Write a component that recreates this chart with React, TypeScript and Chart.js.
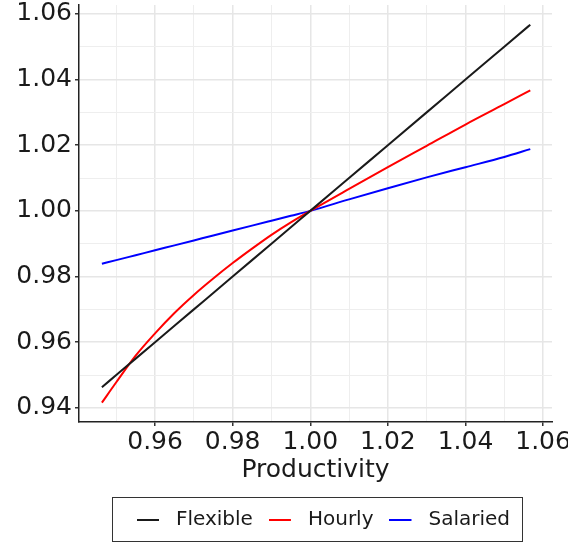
import React, { useEffect, useRef } from 'react';
import { Chart, registerables } from 'chart.js';

Chart.register(...registerables);

// ---- data ----
const productivity = [0.9463, 0.95, 0.955, 0.96, 0.965, 0.97, 0.975, 0.98, 0.985, 0.99, 0.995, 1.0, 1.01, 1.02, 1.03, 1.04, 1.05, 1.0567];
const flexible = [0.9463, 0.95, 0.955, 0.96, 0.965, 0.97, 0.975, 0.98, 0.985, 0.99, 0.995, 1.0, 1.01, 1.02, 1.03, 1.04, 1.05, 1.0567];
const hourly = [0.9416, 0.9478, 0.9559, 0.9627, 0.9689, 0.9744, 0.9794, 0.9841, 0.9885, 0.9927, 0.9965, 1.0, 1.0067, 1.0133, 1.0198, 1.0263, 1.0325, 1.0367];
const salaried = [0.9839, 0.985, 0.9865, 0.988, 0.9895, 0.991, 0.9925, 0.994, 0.9955, 0.997, 0.9985, 1.0, 1.0035, 1.0069, 1.0102, 1.0133, 1.0164, 1.0188];

const seriesNames = ['Flexible', 'Hourly', 'Salaried'];
const seriesColors = ['#1a1a1a', '#ff0000', '#0000ff'];

const xMajorTicks = [0.96, 0.98, 1.0, 1.02, 1.04, 1.06];
const xMinorTicks = [0.95, 0.97, 0.99, 1.01, 1.03, 1.05];
const yMajorTicks = [0.94, 0.96, 0.98, 1.0, 1.02, 1.04, 1.06];
const yMinorTicks = [0.95, 0.97, 0.99, 1.01, 1.03, 1.05];
const xRange = [0.9404, 1.0623];
const yRange = [0.9357, 1.0627];
const xTitle = 'Productivity';

const isIn = (arr: number[], v: number) => arr.some((m) => Math.abs(m - v) < 1e-6);

// legend key: a 22px line followed by a small transparent gap
function makeKey(color: string): HTMLCanvasElement {
  const c = document.createElement('canvas');
  c.width = 29;
  c.height = 4;
  const g = c.getContext('2d');
  if (g) {
    g.fillStyle = color;
    g.fillRect(0, 1, 22, 2);
  }
  return c;
}

export default function App() {
  const ref = useRef<HTMLCanvasElement>(null);

  useEffect(() => {
    const canvas = ref.current;
    if (!canvas) return;

    const tickFont = { family: 'DejaVu Sans', size: 25 };
    const textColor = '#1a1a1a';
    const gridColor = (majors: number[]) => (ctx: any) =>
      ctx.tick && isIn(majors, ctx.tick.value) ? '#e6e6e6' : '#eeeeee';
    const gridWidth = (majors: number[]) => (ctx: any) =>
      ctx.tick && isIn(majors, ctx.tick.value) ? 1.5 : 1;
    const tickColor = (majors: number[]) => (ctx: any) =>
      ctx.tick && isIn(majors, ctx.tick.value) ? '#333333' : 'rgba(0,0,0,0)';

    const legendBox = {
      id: 'legendBox',
      afterLayout(chart: any) {
        const lg = chart.legend;
        if (!lg) return;
        lg.left += 8;
        lg.right += 8;
      },
      afterDraw(chart: any) {
        const lg = chart.legend;
        if (!lg || !lg.legendHitBoxes || !lg.legendHitBoxes.length) return;
        const hb = lg.legendHitBoxes;
        const first = hb[0];
        const last = hb[hb.length - 1];
        const cy = first.top + first.height / 2;
        const left = Math.round(first.left - 25) + 0.5;
        const right = Math.round(last.left + last.width + 12) + 0.5;
        const top = Math.round(cy - 23) + 0.5;
        const bottom = Math.round(cy + 21) + 0.5;
        const ctx = chart.ctx;
        ctx.save();
        ctx.strokeStyle = '#333333';
        ctx.lineWidth = 1;
        ctx.strokeRect(left, top, right - left, bottom - top);
        ctx.restore();
      },
    };

    const series = [flexible, hourly, salaried];
    const chart = new Chart(canvas, {
      type: 'line',
      data: {
        datasets: series.map((ys, i) => ({
          label: seriesNames[i],
          data: productivity.map((x, j) => ({ x, y: ys[j] })),
          borderColor: seriesColors[i],
          backgroundColor: seriesColors[i],
          borderWidth: 2,
          pointRadius: 0,
          pointStyle: makeKey(seriesColors[i]),
          cubicInterpolationMode: 'monotone' as const,
          fill: false,
        })),
      },
      options: {
        animation: false,
        responsive: false,
        layout: { padding: { top: 5, right: 16, left: 0, bottom: 2 } },
        scales: {
          x: {
            type: 'linear',
            min: xRange[0],
            max: xRange[1],
            afterBuildTicks: (s: any) => {
              s.ticks = [...xMajorTicks, ...xMinorTicks].sort((a, b) => a - b).map((v) => ({ value: v }));
            },
            afterFit: (s: any) => {
              s.paddingLeft = 0;
              s.paddingRight = 0;
              s.height = 72;
            },
            ticks: {
              autoSkip: false,
              maxRotation: 0,
              minRotation: 0,
              padding: 1,
              font: tickFont,
              color: textColor,
              callback: (v: any) => (isIn(xMajorTicks, Number(v)) ? Number(v).toFixed(2) : ''),
            },
            grid: {
              color: gridColor(xMajorTicks),
              lineWidth: gridWidth(xMajorTicks),
              tickLength: 4,
              tickColor: tickColor(xMajorTicks),
              tickWidth: 1.5,
            },
            border: { display: true, color: '#222222', width: 1.5 },
            title: {
              display: true,
              text: xTitle,
              font: tickFont,
              color: textColor,
              padding: { top: 0, bottom: 9 },
            },
          },
          y: {
            type: 'linear',
            min: yRange[0],
            max: yRange[1],
            afterBuildTicks: (s: any) => {
              s.ticks = [...yMajorTicks, ...yMinorTicks].sort((a, b) => a - b).map((v) => ({ value: v }));
            },
            afterFit: (s: any) => {
              s.paddingTop = 0;
              s.paddingBottom = 0;
              s.width = 79;
            },
            ticks: {
              autoSkip: false,
              padding: 3,
              font: tickFont,
              color: textColor,
              callback: (v: any) => (isIn(yMajorTicks, Number(v)) ? Number(v).toFixed(2) : ''),
            },
            grid: {
              color: gridColor(yMajorTicks),
              lineWidth: gridWidth(yMajorTicks),
              tickLength: 4,
              tickColor: tickColor(yMajorTicks),
              tickWidth: 1.5,
            },
            border: { display: true, color: '#222222', width: 1.5 },
          },
        },
        plugins: {
          legend: {
            position: 'bottom',
            fullSize: false,
            labels: {
              usePointStyle: true,
              pointStyleWidth: 29,
              padding: 16,
              font: { family: 'DejaVu Sans', size: 20 },
              color: textColor,
            },
          },
          tooltip: { enabled: false },
        },
      } as any,
      plugins: [legendBox],
    });

    return () => chart.destroy();
  }, []);

  return (
    <div style={{ position: 'absolute', left: 0, top: 0, width: 568, height: 542 }}>
      <canvas ref={ref} width={568} height={542} style={{ display: 'block', width: 568, height: 542 }} />
    </div>
  );
}
